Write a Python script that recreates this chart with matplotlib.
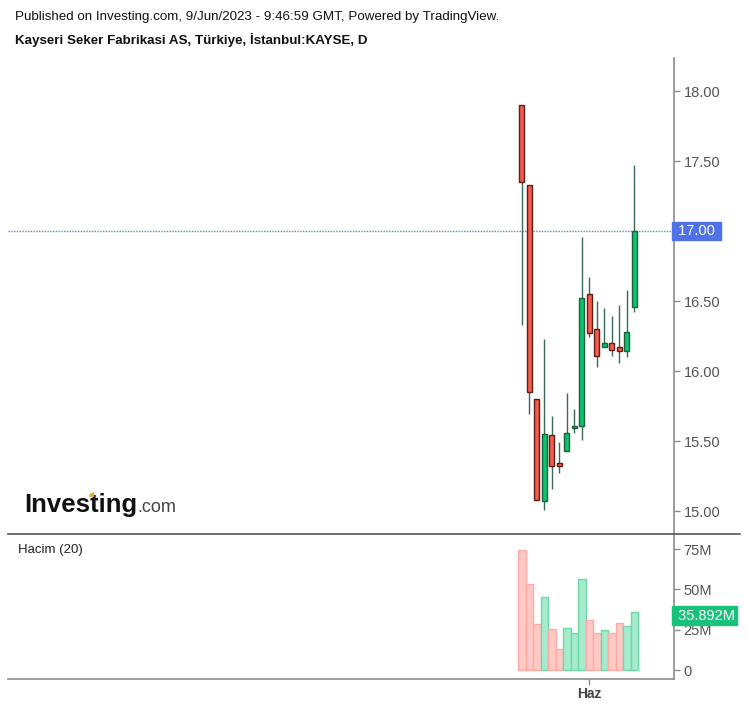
import matplotlib
matplotlib.use("Agg")
import matplotlib.pyplot as plt
from matplotlib.patches import Rectangle, Polygon
from matplotlib.lines import Line2D

plt.rcParams['font.family'] = ['Liberation Sans', 'DejaVu Sans']

# ---- data ----
dates = ["19 May", "22 May", "23 May", "24 May", "25 May", "26 May", "29 May", "30 May",
         "31 May", "1 Haz", "2 Haz", "5 Haz", "6 Haz", "7 Haz", "8 Haz", "9 Haz"]
opens  = [17.90, 17.33, 15.80, 15.07, 15.54, 15.34, 15.43, 15.59, 15.61, 16.55, 16.30, 16.17, 16.20, 16.17, 16.14, 16.46]
highs  = [17.90, 17.33, 15.80, 16.23, 15.68, 15.49, 15.84, 15.73, 16.96, 16.67, 16.50, 16.45, 16.39, 16.47, 16.58, 17.47]
lows   = [16.33, 15.69, 15.08, 15.01, 15.16, 15.27, 15.43, 15.56, 15.51, 16.24, 16.03, 16.17, 16.11, 16.06, 16.10, 16.42]
closes = [17.35, 15.85, 15.08, 15.55, 15.32, 15.32, 15.56, 15.61, 16.52, 16.27, 16.11, 16.20, 16.15, 16.14, 16.28, 17.00]
volumes_m = [74.4, 53.3, 28.5, 45.1, 25.4, 13.0, 26.2, 23.1, 56.6, 30.8, 23.1, 24.6, 23.1, 29.3, 27.3, 35.892]
price_ticks = [15.00, 15.50, 16.00, 16.50, 17.00, 17.50, 18.00]
vol_ticks = [0, 25, 50, 75]
vol_tick_labels = ["0", "25M", "50M", "75M"]
month_tick_index = 9
month_label = "Haz"
last_price = 17.00
last_volume = 35.892

W, H = 746, 707
fig = plt.figure(figsize=(W / 100, H / 100), dpi=100)
fig.patch.set_facecolor('white')

def fx(px):
    return px / W

def fy(py):
    return 1 - py / H

ax = fig.add_axes([fx(8), fy(534), fx(674) - fx(8), fy(58) - fy(534)])
axv = fig.add_axes([fx(8), fy(679), fx(674) - fx(8), fy(534) - fy(679)], sharex=ax)

UP_FILL, UP_EDGE = '#0bc46e', '#1b5e3c'
DN_FILL, DN_EDGE = '#f65c4d', '#5e1d17'
WICK = '#3a6a55'
VUP_FILL, VUP_EDGE = '#a6ebcd', '#6fd8a8'
VDN_FILL, VDN_EDGE = '#ffc9c5', '#ffaaa4'

bw = 0.72
for i in range(len(opens)):
    o, h, l, c = opens[i], highs[i], lows[i], closes[i]
    up = c >= o
    ax.plot([i, i], [l, h], color=WICK, lw=1.0, zorder=2, solid_capstyle='butt')
    lo, hi = min(o, c), max(o, c)
    if hi - lo < 0.02:
        hi = lo + 0.02
    ax.add_patch(Rectangle((i - bw / 2, lo), bw, hi - lo,
                           facecolor=UP_FILL if up else DN_FILL,
                           edgecolor=UP_EDGE if up else DN_EDGE, lw=1.0, zorder=3))
    axv.bar(i, volumes_m[i], width=1.0,
            color=VUP_FILL if up else VDN_FILL,
            edgecolor=VUP_EDGE if up else VDN_EDGE, lw=1.0, zorder=2)

xlim = ((8 - 521.75) / 7.5, (674 - 521.75) / 7.5)
ax.set_xlim(*xlim)
ax.set_ylim(15 + (511 - 534) / 140, 15 + (511 - 58) / 140)
axv.set_ylim((670 - 679) / 1.613, (670 - 534) / 1.613)

# last price line
ax.axhline(last_price, color='#5b7fe6', lw=1.0, ls=(0, (1, 1)), zorder=1)

for a in (ax, axv):
    for s in a.spines.values():
        s.set_visible(False)
    a.spines['right'].set_visible(True)
    a.spines['right'].set_color('#8c8c8c')
    a.spines['right'].set_linewidth(1.2)
    a.yaxis.tick_right()
    a.tick_params(axis='y', length=4, width=1, color='#8c8c8c', labelcolor='#555555',
                  labelsize=10.5, pad=3)
    a.set_facecolor('none')

ax.set_yticks(price_ticks)
ax.set_yticklabels(["" if t == last_price else f"{t:.2f}" for t in price_ticks])
axv.set_yticks(vol_ticks)
axv.set_yticklabels(vol_tick_labels)

ax.tick_params(axis='x', bottom=False, labelbottom=False)
axv.set_xticks([month_tick_index])
axv.set_xticklabels([month_label], fontweight='bold', color='#444444', fontsize=10)
axv.tick_params(axis='x', length=4, width=1, color='#8c8c8c', pad=2)
axv.spines['bottom'].set_visible(True)
axv.spines['bottom'].set_color('#8c8c8c')
axv.spines['bottom'].set_linewidth(1.2)

# separator line between panes
fig.add_artist(Line2D([fx(8), fx(740)], [fy(534), fy(534)], color='#555555', lw=1.2))

# value labels
ax.text(1.0, last_price, " 17.00 ", transform=ax.get_yaxis_transform(), ha='left', va='center',
        color='white', fontsize=10.5, zorder=5,
        bbox=dict(boxstyle='square,pad=0.15', facecolor='#4f73e6', edgecolor='#4f73e6'))
axv.text(1.0, last_volume * 0.94, " 35.892M", transform=axv.get_yaxis_transform(), ha='left', va='center',
         color='white', fontsize=10.5, zorder=5,
         bbox=dict(boxstyle='square,pad=0.15', facecolor='#17c27a', edgecolor='#17c27a'))

# header texts
fig.text(fx(15), fy(17), "Published on Investing.com, 9/Jun/2023 - 9:46:59 GMT, Powered by TradingView.",
         ha='left', va='center', fontsize=9.6, color='#111111')
fig.text(fx(15), fy(40), "Kayseri Seker Fabrikasi AS, Türkiye, İstanbul:KAYSE, D",
         ha='left', va='center', fontsize=9.6, fontweight='bold', color='#111111')
fig.text(fx(18), fy(550), "Hacim (20)", ha='left', va='center', fontsize=9.5, color='#222222')

# logo
fig.text(fx(24), fy(512), "Investing", ha='left', va='baseline', fontsize=18.5,
         fontweight='bold', color='#111111')
fig.text(fx(137), fy(512), ".com", ha='left', va='baseline', fontsize=13, color='#444444')
fig.add_artist(Polygon([[fx(89.5), fy(497)], [fx(94), fy(497)], [fx(94), fy(492)], [fx(89.5), fy(494)]],
                       closed=True, transform=fig.transFigure, facecolor='#f5a623',
                       edgecolor='none', zorder=6))

fig.savefig("out.png", dpi=100, facecolor='white')
